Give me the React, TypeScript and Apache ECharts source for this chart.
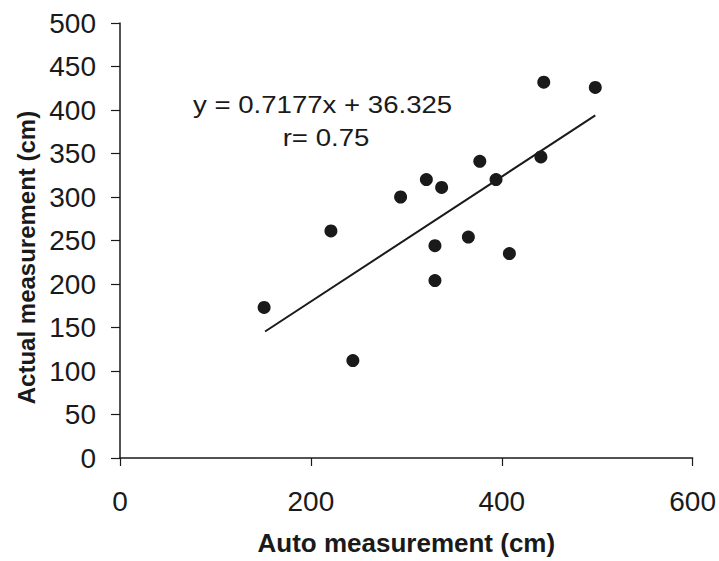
import React, { useEffect, useRef } from "react";
import * as echarts from "echarts";

const autoMeasurement = [151, 221, 244, 294, 321, 337, 330, 330, 365, 377, 394, 408, 441, 444, 498];
const actualMeasurement = [173, 261, 112, 300, 320, 311, 244, 204, 254, 341, 320, 235, 346, 432, 426];
const fitSlope = 0.7177;
const fitIntercept = 36.325;
const fitXRange = [152, 498];
const equationText = "y = 0.7177x + 36.325";
const rText = "r= 0.75";
const xTitle = "Auto measurement (cm)";
const yTitle = "Actual measurement (cm)";

const FONT = "'Liberation Sans', Arial, Helvetica, sans-serif";
const INK = "#1a1a1a";

export default function App() {
  const ref = useRef<HTMLDivElement>(null);
  useEffect(() => {
    if (!ref.current) return;
    const chart = echarts.init(ref.current, undefined, { renderer: "svg" });
    const points = autoMeasurement.map((x, i) => [x, actualMeasurement[i]]);
    const fitLine = fitXRange.map((x) => [x, fitSlope * x + fitIntercept]);
    chart.setOption({
      animation: false,
      backgroundColor: "#ffffff",
      grid: { left: 120, right: 25, top: 23, bottom: 99, containLabel: false },
      xAxis: {
        type: "value",
        min: 0,
        max: 600,
        interval: 200,
        name: xTitle,
        nameLocation: "middle",
        nameGap: 72,
        nameTextStyle: { fontFamily: FONT, fontSize: 26, fontWeight: "bold", color: INK },
        axisLine: { show: true, onZero: false, lineStyle: { color: INK, width: 1.5 } },
        axisTick: { show: true, inside: false, length: 8, lineStyle: { color: INK, width: 1.2 } },
        axisLabel: { fontFamily: FONT, fontSize: 28, color: INK, margin: 29 },
        splitLine: { show: false },
      },
      yAxis: {
        type: "value",
        min: 0,
        max: 500,
        interval: 50,
        name: yTitle,
        nameLocation: "middle",
        nameGap: 82,
        nameRotate: 90,
        nameTextStyle: {
          fontFamily: FONT,
          fontSize: 24,
          fontWeight: "bold",
          color: INK,
          padding: [0, 34, 0, 0],
        },
        axisLine: { show: true, onZero: false, lineStyle: { color: INK, width: 1.5 } },
        axisTick: { show: true, inside: false, length: 9, lineStyle: { color: INK, width: 1.2 } },
        axisLabel: { fontFamily: FONT, fontSize: 28, color: INK, margin: 24 },
        splitLine: { show: false },
      },
      series: [
        {
          type: "line",
          data: fitLine,
          symbol: "none",
          lineStyle: { color: INK, width: 2 },
          z: 2,
        },
        {
          type: "scatter",
          data: points,
          symbol: "circle",
          symbolSize: 13,
          itemStyle: { color: INK, opacity: 1 },
          z: 3,
        },
      ],
      graphic: [
        {
          type: "text",
          x: 193,
          y: 105,
          scaleX: 1.2,
          style: {
            text: equationText,
            fontFamily: FONT,
            fontSize: 23,
            fill: INK,
            textAlign: "left",
            textVerticalAlign: "middle",
          },
        },
        {
          type: "text",
          x: 326,
          y: 138,
          scaleX: 1.2,
          style: {
            text: rText,
            fontFamily: FONT,
            fontSize: 23,
            fill: INK,
            textAlign: "center",
            textVerticalAlign: "middle",
          },
        },
      ],
    });
    return () => chart.dispose();
  }, []);
  return (
    <div
      ref={ref}
      style={{ position: "fixed", left: 0, top: 0, width: 719, height: 561, background: "#fff" }}
    />
  );
}
